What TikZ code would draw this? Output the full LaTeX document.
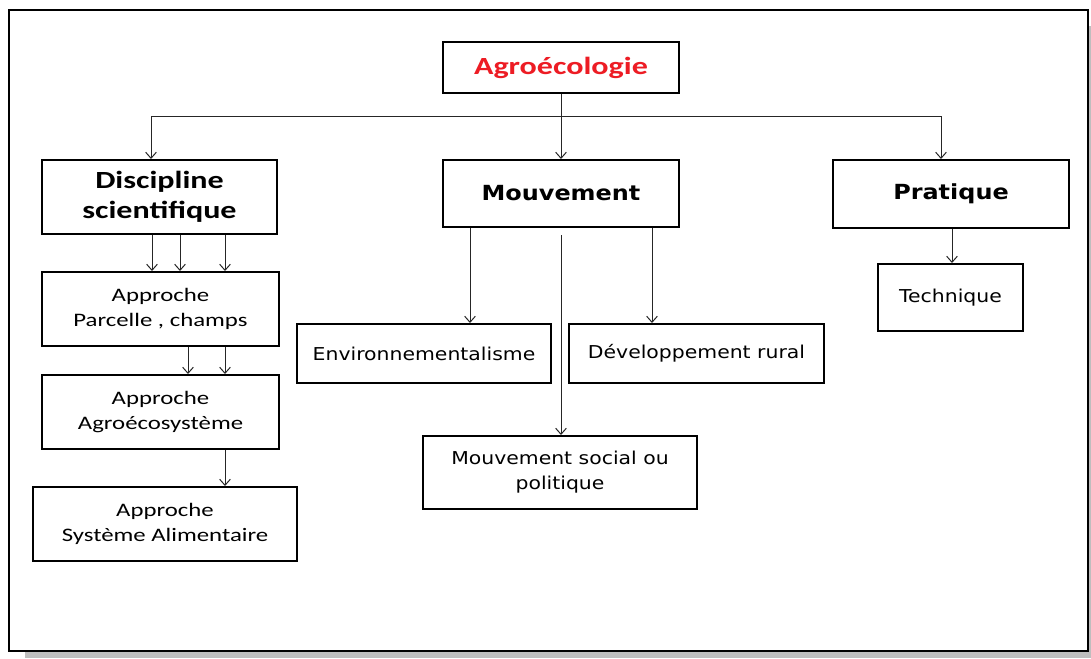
\documentclass[tikz,border=0pt]{standalone}
\usepackage{fontspec}
\setmainfont{Carlito}[FakeStretch=1.3]
\newfontfamily\vfont{DejaVu Sans}[FakeStretch=1.15]
\usetikzlibrary{arrows.meta}
\definecolor{agrored}{RGB}{237,28,36}
\definecolor{shadowgray}{RGB}{190,190,190}
\begin{document}
\begin{tikzpicture}[x=0.75pt,y=-0.75pt,
  box/.style={draw=black, line width=1.5pt, inner sep=0pt, align=center, fill=white},
  head/.style={box, font=\fontsize{18.5}{22.5}\selectfont\bfseries},
  vhead/.style={box, font=\vfont\fontsize{15.6}{19}\selectfont\bfseries},
  sub/.style={box, font=\fontsize{14.3}{18.75}\selectfont},
  vsub/.style={box, font=\vfont\fontsize{13.3}{18.75}\selectfont},
  arr/.style={draw=black!85, line width=0.75pt, -{Straight Barb[length=4.5pt,width=8pt]}},
  conn/.style={draw=black!85, line width=0.75pt}]
\useasboundingbox (0,0) rectangle (1091,658);
% frame with shadow
\fill[shadowgray] (25,26) rectangle (1091,658);
\draw[line width=1.9pt, fill=white] (9,10) rectangle (1088,651);

% nodes
\node[head, text=agrored, minimum width=177pt, minimum height=38.25pt] (agro) at (561,67.5) {Agroécologie};
\node[head, minimum width=176.25pt, minimum height=55.5pt] (disc) at (159.5,197) {Discipline\\scientifique};
\node[vhead, minimum width=177pt, minimum height=50.25pt] (mouv) at (561,193.5) {Mouvement};
\node[vhead, minimum width=177pt, minimum height=51pt] (prat) at (951,194) {Pratique};
\node[sub, minimum width=177.75pt, minimum height=55.5pt] (parc) at (160.5,309) {Approche\\Parcelle , champs};
\node[sub, minimum width=177.75pt, minimum height=55.5pt] (agroeco) at (160.5,412) {Approche\\Agroécosystème};
\node[sub, minimum width=198pt, minimum height=55.5pt] (sysal) at (165,524) {Approche\\Système Alimentaire};
\node[vsub, minimum width=190.5pt, minimum height=44.25pt] (env) at (424,353.5) {Environnementalisme};
\node[vsub, minimum width=191.25pt, minimum height=44.25pt] (dev) at (696.5,353.5) {Développement rural};
\node[vsub, minimum width=205.5pt, minimum height=54.75pt] (soc) at (560,472.5) {Mouvement social ou\\politique};
\node[vsub, minimum width=108.75pt, minimum height=50.25pt] (tech) at (950.5,297.5) {Technique};

% helper coordinates
\coordinate (bl) at (151,116);
\coordinate (br) at (941,116);
\coordinate (c1) at (152,0);
\coordinate (c2) at (180,0);
\coordinate (c3) at (225,0);
\coordinate (c4) at (188,0);
\coordinate (c5) at (470,0);
\coordinate (c6) at (652,0);
\coordinate (c7) at (952,0);
\coordinate (mgap) at (561,235);

% connectors
\draw[arr] (agro) -- (mouv);
\draw[conn] (bl) -- (br);
\draw[arr] (bl) -- (bl |- disc.north);
\draw[arr] (br) -- (br |- prat.north);

\draw[arr] (disc.south -| c1) -- (parc.north -| c1);
\draw[arr] (disc.south -| c2) -- (parc.north -| c2);
\draw[arr] (disc.south -| c3) -- (parc.north -| c3);
\draw[arr] (parc.south -| c4) -- (agroeco.north -| c4);
\draw[arr] (parc.south -| c3) -- (agroeco.north -| c3);
\draw[arr] (agroeco.south -| c3) -- (sysal.north -| c3);

\draw[arr] (mouv.south -| c5) -- (env.north -| c5);
\draw[arr] (mouv.south -| c6) -- (dev.north -| c6);
\draw[arr] (mgap) -- (soc.north -| mgap);

\draw[arr] (prat.south -| c7) -- (tech.north -| c7);
\end{tikzpicture}
\end{document}
